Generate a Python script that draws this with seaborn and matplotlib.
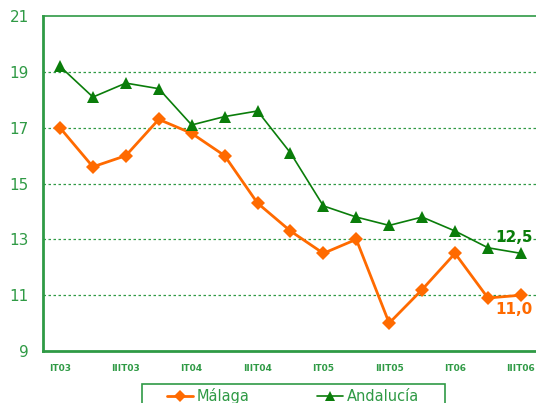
import pandas as pd
import numpy as np
import seaborn as sns
import matplotlib.pyplot as plt
from matplotlib.patches import Rectangle

# Quarters from IT03 to IIIT06
quarters = ["IT03", "IIT03", "IIIT03", "IVT03", "IT04", "IIT04", "IIIT04", "IVT04",
            "IT05", "IIT05", "IIIT05", "IVT05", "IT06", "IIT06", "IIIT06"]
malaga = [17.0, 15.6, 16.0, 17.3, 16.8, 16.0, 14.3, 13.3, 12.5, 13.0, 10.0, 11.2, 12.5, 10.9, 11.0]
andalucia = [19.2, 18.1, 18.6, 18.4, 17.1, 17.4, 17.6, 16.1, 14.2, 13.8, 13.5, 13.8, 13.3, 12.7, 12.5]
tick_labels = ["IT03", "IIIT03", "IT04", "IIIT04", "IT05", "IIIT05", "IT06", "IIIT06"]

green_axis = "#2f9a45"
green_line = "#0a7d0a"
orange = "#ff6a00"

df = pd.DataFrame({
    "pos": list(range(len(quarters))) * 2,
    "valor": malaga + andalucia,
    "serie": ["Málaga"] * len(malaga) + ["Andalucía"] * len(andalucia),
})

sns.set_style("white")
fig = plt.figure(figsize=(5.36, 4.03), dpi=100)
ax = fig.add_axes([0.080, 0.129, 0.92, 0.831])

sns.lineplot(data=df, x="pos", y="valor", hue="serie", style="serie",
             palette={"Málaga": orange, "Andalucía": green_line},
             markers={"Málaga": "D", "Andalucía": "^"}, dashes=False,
             markersize=7, markeredgewidth=0, ax=ax, legend=False)
for ln in ax.get_lines():
    if ln.get_color() == orange:
        ln.set_linewidth(2.0)
    else:
        ln.set_linewidth(1.2)
        ln.set_markersize(8)

ax.set_xlim(-0.52, 14.46)
ax.set_ylim(9, 21)
ax.set_yticks([9, 11, 13, 15, 17, 19, 21])
ax.set_xticks(range(0, 15, 2))
ax.set_xticklabels(tick_labels)
ax.set_xlabel("")
ax.set_ylabel("")
ax.tick_params(axis="y", labelsize=11, labelcolor=green_axis, length=4, color="#aaaaaa", pad=6)
ax.tick_params(axis="x", labelsize=6.5, labelcolor=green_axis, length=0, pad=9)
for lbl in ax.get_xticklabels():
    lbl.set_fontweight("bold")

for v in [11, 13, 15, 17, 19]:
    ax.axhline(v, color=green_axis, linestyle=(0, (2, 2)), linewidth=0.9, zorder=0)

for s in ["left", "bottom", "top"]:
    ax.spines[s].set_color(green_axis)
    ax.spines[s].set_linewidth(2)
ax.spines["top"].set_linewidth(1.2)
ax.spines["right"].set_visible(False)

ax.text(13.8, andalucia[-1] + 0.3, "12,5", color=green_line, fontsize=11,
        fontweight="bold", ha="center", va="bottom")
ax.text(13.8, malaga[-1] - 0.25, "11,0", color=orange, fontsize=11,
        fontweight="bold", ha="center", va="top")

handles = [
    plt.Line2D([], [], color=orange, marker="D", markersize=6, linewidth=2, markeredgewidth=0),
    plt.Line2D([], [], color=green_line, marker="^", markersize=7, linewidth=1.2, markeredgewidth=0),
]
leg = fig.legend(handles, ["Málaga", "Andalucía"], loc="upper center",
                 bbox_to_anchor=(0.547, 0.047), ncol=2, frameon=False,
                 fontsize=10.5, handlelength=1.75, columnspacing=4.6, borderpad=0.3,
                 handletextpad=0.3, borderaxespad=0)
for t in leg.get_texts():
    t.set_color(green_axis)

# legend frame, wider than the entries, running off the bottom edge
fig.patches.append(Rectangle((142 / 536, -0.05), (445 - 142) / 536, 0.05 + (403 - 384) / 403,
                             transform=fig.transFigure, fill=False,
                             edgecolor=green_axis, linewidth=1.2))

fig.savefig("out.png", dpi=100)
